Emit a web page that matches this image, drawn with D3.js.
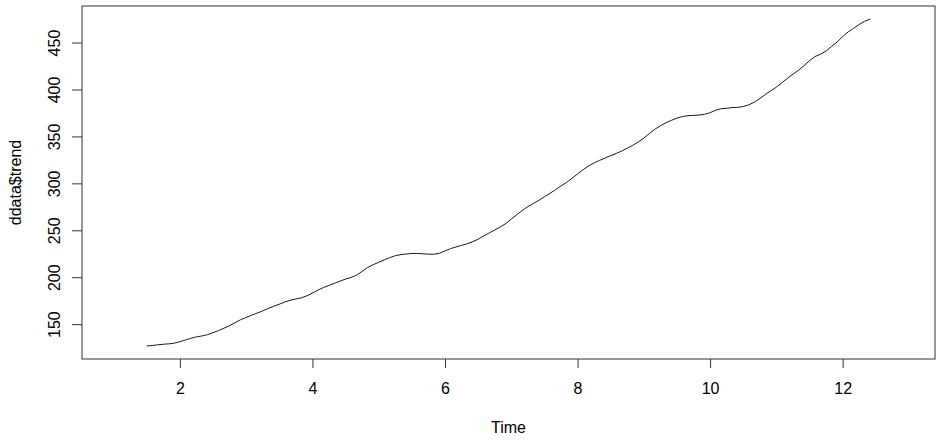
<!DOCTYPE html>
<html>
<head>
<meta charset="utf-8">
<script src="https://cdn.jsdelivr.net/npm/d3@7"></script>
<style>
  body { margin: 0; background: #ffffff; }
  text { font-family: Arial, "Liberation Sans", sans-serif; fill: #000; }
</style>
</head>
<body>
<svg id="chart" width="945" height="444"></svg>
<script>
// trend component (centred 12-month moving average), one value per month
var trendValues = [
  126.79, 127.25, 127.96, 128.58, 129.00, 129.75,
  131.25, 133.08, 134.92, 136.42, 137.42, 138.75, 140.92, 143.17, 145.71, 148.42, 151.54, 154.71,
  157.13, 159.54, 161.83, 164.13, 166.67, 169.08, 171.25, 173.58, 175.46, 176.83, 178.04, 180.17,
  183.13, 186.21, 189.04, 191.29, 193.58, 195.83, 198.04, 199.75, 202.21, 206.25, 210.42, 213.38,
  215.83, 218.50, 220.92, 222.92, 224.08, 224.71, 225.33, 225.33, 224.96, 224.58, 224.46, 225.54,
  228.00, 230.46, 232.25, 233.92, 235.63, 237.75, 240.50, 243.96, 247.17, 250.25, 253.50, 257.13,
  261.83, 266.67, 271.13, 275.21, 278.50, 281.96, 285.75, 289.33, 293.25, 297.17, 301.00, 305.46,
  309.96, 314.42, 318.63, 321.75, 324.50, 327.08, 329.54, 331.83, 334.46, 337.54, 340.54, 344.08,
  348.25, 353.00, 357.63, 361.38, 364.50, 367.17, 369.46, 371.21, 372.17, 372.42, 372.75, 373.63,
  375.25, 377.92, 379.50, 380.00, 380.71, 380.96, 381.83, 383.67, 386.50, 390.33, 394.71, 398.63,
  402.54, 407.17, 411.88, 416.33, 420.50, 425.50, 430.71, 435.13, 437.71, 440.96, 445.83, 450.63,
  456.33, 461.38, 465.21, 469.33, 472.75, 475.04
];

// time series definition: frequency 12, first non-NA value at 1.5, full series 1 .. 12+11/12
var tsFrequency = 12;
var trendStart = 1.5;
var seriesRange = [1, 12 + 11 / 12];

var xTicks = [2, 4, 6, 8, 10, 12];
var yTicks = [150, 200, 250, 300, 350, 400, 450];

var xLabel = "Time";
var yLabel = "ddata$trend";

var box = { left: 82, right: 935, top: 6, bottom: 359 };

var points = trendValues.map(function (v, i) {
  return { t: trendStart + i / tsFrequency, v: v };
});

// R style axis limits: data range widened by 4%
function pad(ext) {
  var d = (ext[1] - ext[0]) * 0.04;
  return [ext[0] - d, ext[1] + d];
}

var x = d3.scaleLinear().domain(pad(seriesRange)).range([box.left, box.right]);
var y = d3.scaleLinear().domain(pad(d3.extent(trendValues))).range([box.bottom, box.top]);

var svg = d3.select("#chart");

// the trend line
var line = d3.line()
  .x(function (d) { return x(d.t); })
  .y(function (d) { return y(d.v); });

svg.append("path")
  .datum(points)
  .attr("d", line)
  .attr("fill", "none")
  .attr("stroke", "#1a1a1a")
  .attr("stroke-width", 1);

// bottom axis
var xAxis = svg.append("g")
  .attr("transform", "translate(0," + box.bottom + ")")
  .call(d3.axisBottom(x).tickValues(xTicks).tickSize(9).tickPadding(5).tickSizeOuter(0));
xAxis.select(".domain").remove();
xAxis.selectAll("line").attr("stroke", "#333");
xAxis.selectAll("text")
  .attr("font-size", 16)
  .attr("dy", null)
  .attr("y", 35)
  .style("font-family", "Arial, 'Liberation Sans', sans-serif");

// left axis, labels rotated like R's las=0
var yAxis = svg.append("g")
  .attr("transform", "translate(" + box.left + ",0)")
  .call(d3.axisLeft(y).tickValues(yTicks).tickSize(10).tickSizeOuter(0));
yAxis.select(".domain").remove();
yAxis.selectAll("line").attr("stroke", "#333");
yAxis.selectAll("text").remove();
yAxis.selectAll(".tick")
  .append("text")
  .attr("transform", "translate(-22,0) rotate(-90)")
  .attr("text-anchor", "middle")
  .attr("font-size", 16)
  .style("font-family", "Arial, 'Liberation Sans', sans-serif")
  .text(function (d) { return d; });

// plot frame
svg.append("rect")
  .attr("x", box.left)
  .attr("y", box.top)
  .attr("width", box.right - box.left)
  .attr("height", box.bottom - box.top)
  .attr("fill", "none")
  .attr("stroke", "#333")
  .attr("stroke-width", 1);

// axis titles
svg.append("text")
  .attr("x", (box.left + box.right) / 2)
  .attr("y", 433)
  .attr("text-anchor", "middle")
  .attr("font-size", 16)
  .text(xLabel);

svg.append("text")
  .attr("transform", "translate(21," + (box.top + box.bottom) / 2 + ") rotate(-90)")
  .attr("text-anchor", "middle")
  .attr("font-size", 16)
  .text(yLabel);
</script>
</body>
</html>
